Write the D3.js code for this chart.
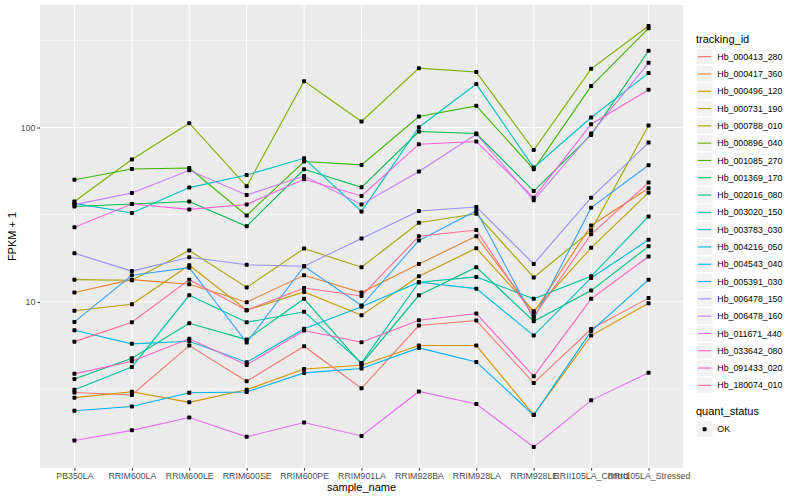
<!DOCTYPE html>
<html>
<meta charset="utf-8">
<svg width="800" height="500"></svg>
<script src="https://d3js.org/d3.v7.min.js"></script>
<style>
  body { margin: 0; background: #fff; }
  svg { display: block; font-family: "Liberation Sans", Arial, sans-serif; }
  .axis text { fill: #4d4d4d; font-size: 8.8px; }
  .axis line { stroke: #333; stroke-width: 1px; }
  .axis path { display: none; }
  .title { fill: #000; font-size: 11px; }
  .legend text.lab { fill: #000; font-size: 8.8px; }
</style>
<script>
  // 样本（x 轴）
  var samples = ["PB350LA", "RRIM600LA", "RRIM600LE", "RRIM600SE", "RRIM600PE", "RRIM901LA",
    "RRIM928BA", "RRIM928LA", "RRIM928LE", "RRII105LA_Control", "RRII105LA_Stressed"];

  var trackingIds = ["Hb_000413_280", "Hb_000417_360", "Hb_000496_120", "Hb_000731_190", "Hb_000788_010",
    "Hb_000896_040", "Hb_001085_270", "Hb_001369_170", "Hb_002016_080", "Hb_003020_150",
    "Hb_003783_030", "Hb_004216_050", "Hb_004543_040", "Hb_005391_030", "Hb_006478_150",
    "Hb_006478_160", "Hb_011671_440", "Hb_033642_080", "Hb_091433_020", "Hb_180074_010"];

  // ggplot 默认色相调色板 (20 色)
  var colors = ["#F8766D", "#EA8331", "#D89000", "#C09B00", "#A3A500", "#7CAE00", "#39B600", "#00BB4E",
    "#00BF7D", "#00C1A3", "#00BFC4", "#00BAE0", "#00B0F6", "#35A2FF", "#9590FF", "#C77CFF",
    "#E76BF3", "#FA62DB", "#FF62BC", "#FF6C91"];

  // FPKM + 1，每个基因一行，顺序同 samples
  var hb_000413_280 = [3.02, 2.92, 5.61, 3.50, 5.56, 3.19, 7.31, 7.81, 3.42, 6.98, 10.5];
  var hb_000417_360 = [11.3, 13.4, 12.6, 9.95, 14.2, 11.3, 16.5, 23.8, 8.65, 27.4, 44.8];
  var hb_000496_120 = [2.82, 3.05, 2.65, 3.13, 4.12, 4.33, 5.61, 5.61, 2.25, 6.40, 9.82];
  var hb_000731_190 = [8.88, 9.69, 16.2, 8.95, 11.4, 8.38, 14.0, 20.3, 8.83, 20.4, 42.3];
  var hb_000788_010 = [13.4, 13.3, 19.7, 12.1, 20.2, 15.8, 28.4, 32.0, 13.8, 25.7, 102.7];
  var hb_000896_040 = [37.6, 65.5, 105.9, 46.0, 184.5, 108.3, 219, 208, 74.3, 217, 382];
  var hb_001085_270 = [50.2, 57.8, 58.6, 31.3, 63.8, 61.0, 115.7, 133.1, 57.6, 172.8, 370.7];
  var hb_001369_170 = [35.2, 36.4, 37.6, 27.1, 57.6, 45.4, 94.8, 92.4, 43.2, 90.7, 275.6];
  var hb_002016_080 = [3.61, 4.74, 7.53, 6.07, 10.4, 4.39, 10.9, 15.8, 7.74, 11.6, 20.8];
  var hb_003020_150 = [3.13, 4.23, 10.9, 7.63, 8.76, 4.46, 12.96, 13.9, 10.4, 14.0, 30.9];
  var hb_003783_030 = [36.7, 32.3, 45.2, 53.4, 66.6, 33.0, 100.4, 177.4, 58.9, 114.1, 205.2];
  var hb_004216_050 = [6.87, 5.74, 5.94, 4.50, 7.00, 9.36, 12.96, 11.9, 6.40, 13.7, 22.7];
  var hb_004543_040 = [2.37, 2.51, 3.01, 3.04, 3.91, 4.14, 5.44, 4.52, 2.24, 6.79, 13.4];
  var hb_005391_030 = [7.67, 14.2, 15.7, 5.84, 16.0, 9.52, 22.5, 33.3, 7.99, 34.7, 60.7];
  var hb_006478_150 = [19.0, 15.0, 18.0, 16.3, 16.0, 23.1, 33.2, 35.0, 16.5, 39.6, 82.0];
  var hb_006478_160 = [36.1, 42.1, 56.8, 41.0, 52.7, 36.2, 55.9, 91.5, 38.2, 92.4, 235.1];
  var hb_011671_440 = [1.60, 1.83, 2.17, 1.68, 2.03, 1.70, 3.06, 2.59, 1.47, 2.72, 3.92];
  var hb_033642_080 = [26.8, 36.4, 33.9, 36.2, 50.5, 40.5, 80.2, 83.1, 39.6, 104.5, 164.5];
  var hb_091433_020 = [3.86, 4.56, 6.13, 4.34, 6.84, 5.86, 7.84, 8.57, 3.74, 10.4, 18.2];
  var hb_180074_010 = [5.91, 7.63, 13.4, 8.95, 12.0, 10.8, 23.8, 25.8, 8.23, 24.4, 48.3];

  var seriesValues = [hb_000413_280, hb_000417_360, hb_000496_120, hb_000731_190, hb_000788_010,
    hb_000896_040, hb_001085_270, hb_001369_170, hb_002016_080, hb_003020_150,
    hb_003783_030, hb_004216_050, hb_004543_040, hb_005391_030, hb_006478_150,
    hb_006478_160, hb_011671_440, hb_033642_080, hb_091433_020, hb_180074_010];

  var series = trackingIds.map(function (id, i) {
    return { id: id, color: colors[i], values: seriesValues[i] };
  });

  var svg = d3.select("svg");
  var panel = { left: 40, right: 683, top: 5, bottom: 468 };

  var x = d3.scalePoint()
    .domain(samples)
    .range([panel.left, panel.right])
    .padding(0.6);

  // 对数轴，上下各扩展 5%（同 ggplot）
  var allVals = d3.merge(seriesValues);
  var lmin = Math.log10(d3.min(allVals)), lmax = Math.log10(d3.max(allVals));
  var pad = (lmax - lmin) * 0.05;
  var y = d3.scaleLog()
    .domain([Math.pow(10, lmin - pad), Math.pow(10, lmax + pad)])
    .range([panel.bottom, panel.top]);

  // 面板背景
  svg.append("rect")
    .attr("x", panel.left).attr("y", panel.top)
    .attr("width", panel.right - panel.left).attr("height", panel.bottom - panel.top)
    .attr("fill", "#ebebeb");

  var majorY = [1, 10, 100, 1000].filter(function (v) { return v >= y.domain()[0] && v <= y.domain()[1]; });
  var minorY = [Math.sqrt(10), Math.sqrt(1000), Math.sqrt(100000)].filter(function (v) { return v >= y.domain()[0] && v <= y.domain()[1]; });

  var grid = svg.append("g");
  grid.selectAll(".minor").data(minorY).enter().append("line")
    .attr("x1", panel.left).attr("x2", panel.right)
    .attr("y1", function (d) { return y(d); }).attr("y2", function (d) { return y(d); })
    .attr("stroke", "#fff").attr("stroke-width", 0.55);
  grid.selectAll(".majorY").data(majorY).enter().append("line")
    .attr("x1", panel.left).attr("x2", panel.right)
    .attr("y1", function (d) { return y(d); }).attr("y2", function (d) { return y(d); })
    .attr("stroke", "#fff").attr("stroke-width", 1.1);
  grid.selectAll(".majorX").data(samples).enter().append("line")
    .attr("y1", panel.top).attr("y2", panel.bottom)
    .attr("x1", function (d) { return x(d); }).attr("x2", function (d) { return x(d); })
    .attr("stroke", "#fff").attr("stroke-width", 1.1);

  // 折线
  var line = d3.line()
    .x(function (d, i) { return x(samples[i]); })
    .y(function (d) { return y(d); });

  svg.append("g").selectAll("path").data(series).enter().append("path")
    .attr("d", function (d) { return line(d.values); })
    .attr("fill", "none")
    .attr("stroke", function (d) { return d.color; })
    .attr("stroke-width", 1.1);

  // 点
  var pts = [];
  series.forEach(function (s) {
    s.values.forEach(function (v, i) { pts.push({ s: samples[i], v: v }); });
  });
  svg.append("g").selectAll("rect").data(pts).enter().append("rect")
    .attr("x", function (d) { return x(d.s) - 2; })
    .attr("y", function (d) { return y(d.v) - 2; })
    .attr("width", 4).attr("height", 4)
    .attr("rx", 0.8)
    .attr("fill", "#000");

  // 坐标轴
  svg.append("g")
    .attr("class", "axis")
    .attr("transform", "translate(" + panel.left + ",0)")
    .call(d3.axisLeft(y).tickValues(majorY).tickFormat(d3.format("d")).tickSize(2.7).tickPadding(2));

  svg.append("g")
    .attr("class", "axis")
    .attr("transform", "translate(0," + panel.bottom + ")")
    .call(d3.axisBottom(x).tickSize(2.7).tickPadding(2));

  svg.append("text").attr("class", "title")
    .attr("x", (panel.left + panel.right) / 2).attr("y", 491)
    .attr("text-anchor", "middle")
    .text("sample_name");

  svg.append("text").attr("class", "title")
    .attr("transform", "translate(16," + (panel.top + panel.bottom) / 2 + ") rotate(-90)")
    .attr("text-anchor", "middle")
    .text("FPKM + 1");

  // 图例
  var keyH = 17.3, legX = 696, legY = 48;
  var legend = svg.append("g").attr("class", "legend");
  legend.append("text").attr("class", "title")
    .attr("x", legX).attr("y", 43).text("tracking_id");

  var item = legend.selectAll(".item").data(series).enter().append("g")
    .attr("transform", function (d, i) { return "translate(" + legX + "," + (legY + i * keyH) + ")"; });
  item.append("rect")
    .attr("width", keyH).attr("height", keyH)
    .attr("fill", "#f2f2f2").attr("stroke", "#fff").attr("stroke-width", 1.5);
  item.append("line")
    .attr("x1", 2).attr("x2", keyH - 2)
    .attr("y1", keyH / 2).attr("y2", keyH / 2)
    .attr("stroke", function (d) { return d.color; }).attr("stroke-width", 1.1);
  item.append("text").attr("class", "lab")
    .attr("x", keyH + 4).attr("y", keyH / 2).attr("dy", "0.35em")
    .text(function (d) { return d.id; });

  legend.append("text").attr("class", "title")
    .attr("x", legX).attr("y", 415).text("quant_status");
  var ok = legend.append("g").attr("transform", "translate(" + legX + ",420.5)");
  ok.append("rect")
    .attr("width", keyH).attr("height", keyH)
    .attr("fill", "#f2f2f2").attr("stroke", "#fff").attr("stroke-width", 1.5);
  ok.append("rect")
    .attr("x", keyH / 2 - 2).attr("y", keyH / 2 - 2).attr("width", 4).attr("height", 4)
    .attr("rx", 0.8).attr("fill", "#000");
  ok.append("text").attr("class", "lab")
    .attr("x", keyH + 4).attr("y", keyH / 2).attr("dy", "0.35em")
    .text("OK");
</script>
</html>
